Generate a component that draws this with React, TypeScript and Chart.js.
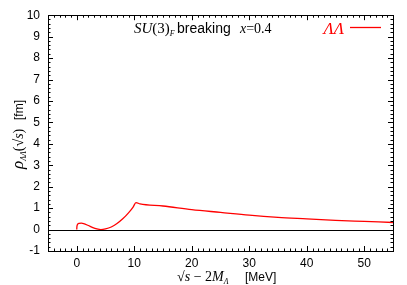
import React, { useEffect, useRef } from "react";
import { Chart, registerables } from "chart.js";
Chart.register(...registerables);

const energies = [0, 0.03, 0.12, 0.4, 0.8, 1.2, 2, 2.8, 3.5, 4.2, 5, 6, 7, 8, 9, 9.8, 10.3, 11, 15, 20, 25, 30, 35, 40, 45, 50, 55];
const rhoLL = [0, 0.14, 0.23, 0.29, 0.3, 0.28, 0.19, 0.09, 0.03, 0.0, 0.03, 0.12, 0.28, 0.5, 0.78, 1.05, 1.26, 1.2, 1.1, 0.93, 0.8, 0.67, 0.57, 0.5, 0.43, 0.38, 0.33];
const xTickLabels = [0, 10, 20, 30, 40, 50];
const yTickLabels = [-1, 0, 1, 2, 3, 4, 5, 6, 7, 8, 9, 10];
const xMinorStep = 1;
const yMinorStep = 0.2;
const xRange = [-5, 55];
const yRange = [-1, 10];
const seriesName = "ΛΛ";

const SANS = '"Liberation Sans", Arial, sans-serif';
const SERIF = '"Liberation Serif", "Times New Roman", serif';

const decorPlugin = {
  id: "decor",
  afterDatasetsDraw(chart: any) {
    const { ctx, chartArea: a, scales } = chart;
    const xs = scales.x, ys = scales.y;
    ctx.save();
    ctx.strokeStyle = "#000";
    ctx.lineWidth = 1;
    const y0 = Math.round(ys.getPixelForValue(0)) + 0.5;
    ctx.beginPath();
    ctx.moveTo(a.left, y0);
    ctx.lineTo(a.right, y0);
    ctx.stroke();
    ctx.strokeRect(Math.round(a.left) + 0.5, Math.round(a.top) + 0.5, Math.round(a.right - a.left), Math.round(a.bottom - a.top));
    ctx.beginPath();
    const nx = Math.round((xRange[1] - xRange[0]) / xMinorStep);
    for (let i = 0; i <= nx; i++) {
      const v = xRange[0] + i * xMinorStep;
      const major = xTickLabels.includes(Math.round(v * 1000) / 1000);
      const len = major ? 5 : 2.5;
      const px = Math.round(xs.getPixelForValue(v)) + 0.5;
      ctx.moveTo(px, a.bottom);
      ctx.lineTo(px, a.bottom - len);
      ctx.moveTo(px, a.top);
      ctx.lineTo(px, a.top + len);
    }
    const ny = Math.round((yRange[1] - yRange[0]) / yMinorStep);
    for (let i = 0; i <= ny; i++) {
      const v = Math.round((yRange[0] + i * yMinorStep) * 1000) / 1000;
      const major = yTickLabels.includes(v);
      const len = major ? 5 : 2.5;
      const py = Math.round(ys.getPixelForValue(v)) + 0.5;
      ctx.moveTo(a.left, py);
      ctx.lineTo(a.left + len, py);
      ctx.moveTo(a.right, py);
      ctx.lineTo(a.right - len, py);
    }
    ctx.stroke();

    // title inside plot
    ctx.fillStyle = "#000";
    ctx.textBaseline = "alphabetic";
    ctx.textAlign = "left";
    let tx = 134;
    const ty = 33;
    const part = (t: string, font: string, dy = 0) => {
      ctx.font = font;
      ctx.fillText(t, tx, ty + dy);
      tx += ctx.measureText(t).width;
    };
    part("SU", `italic 15px ${SERIF}`);
    part("(3)", `15px ${SERIF}`);
    part("F", `italic 8px ${SERIF}`, 3);
    tx = 177;
    part("breaking", `14px ${SANS}`);
    tx = 240;
    part("x", `italic 14px ${SERIF}`);
    part("=0.4", `14px ${SERIF}`);

    // legend
    ctx.fillStyle = "#ff0000";
    ctx.font = `italic 17px ${SERIF}`;
    ctx.textAlign = "right";
    ctx.fillText(seriesName, 344, 34);
    ctx.strokeStyle = "#ff0000";
    ctx.lineWidth = 1.3;
    ctx.beginPath();
    ctx.moveTo(350, 27.5);
    ctx.lineTo(381, 27.5);
    ctx.stroke();

    // x axis title
    ctx.fillStyle = "#000";
    ctx.textAlign = "left";
    tx = 177;
    const xty = 281;
    const p2 = (t: string, font: string, dy = 0) => {
      ctx.font = font;
      ctx.fillText(t, tx, xty + dy);
      tx += ctx.measureText(t).width;
    };
    p2("√", `14px ${SERIF}`);
    p2("s", `italic 14px ${SERIF}`);
    p2(" − 2", `14px ${SERIF}`);
    p2("M", `italic 14px ${SERIF}`);
    p2("Λ", `italic 8px ${SERIF}`, 3);
    tx = 245;
    p2("[MeV]", `12px ${SANS}`);

    // y axis title rotated
    ctx.save();
    ctx.translate(23, 169);
    ctx.rotate(-Math.PI / 2);
    tx = 0;
    const p3 = (t: string, font: string, dy = 0) => {
      ctx.font = font;
      ctx.fillText(t, tx, dy);
      tx += ctx.measureText(t).width;
    };
    p3("ρ", `italic 17px ${SERIF}`);
    p3("ΛΛ", `italic 8px ${SERIF}`, 3);
    p3("(√", `14px ${SERIF}`);
    p3("s", `italic 14px ${SERIF}`);
    p3(")", `14px ${SERIF}`);
    tx = 169 - 120;
    p3("[fm]", `12px ${SANS}`);
    ctx.restore();

    ctx.restore();
  },
};

export default function App() {
  const ref = useRef<HTMLCanvasElement>(null);
  useEffect(() => {
    document.body.style.margin = "0";
    const chart = new Chart(ref.current!, {
      type: "line",
      data: {
        datasets: [
          {
            label: seriesName,
            data: energies.map((e, i) => ({ x: e, y: rhoLL[i] })),
            borderColor: "#ff0000",
            borderWidth: 1.3,
            pointRadius: 0,
            cubicInterpolationMode: "monotone",
            fill: false,
          },
        ],
      },
      options: {
        animation: false,
        responsive: false,
        maintainAspectRatio: false,
        layout: { padding: { top: 8.8, right: 14, left: 0, bottom: 0 } },
        plugins: { legend: { display: false }, tooltip: { enabled: false } },
        scales: {
          x: {
            type: "linear",
            min: xRange[0],
            max: xRange[1],
            afterBuildTicks: (s: any) => {
              s.ticks = xTickLabels.map((v) => ({ value: v }));
            },
            afterFit: (s: any) => {
              s.height = 34;
            },
            grid: { display: false, drawTicks: false },
            border: { display: false },
            ticks: { padding: 5, color: "#000", font: { size: 12, family: SANS }, maxRotation: 0 },
          },
          y: {
            type: "linear",
            min: yRange[0],
            max: yRange[1],
            afterBuildTicks: (s: any) => {
              s.ticks = yTickLabels.map((v) => ({ value: v }));
            },
            afterFit: (s: any) => {
              s.width = 48;
            },
            grid: { display: false, drawTicks: false },
            border: { display: false },
            ticks: { padding: 8, color: "#000", font: { size: 12, family: SANS } },
          },
        },
      },
      plugins: [decorPlugin],
    } as any);
    return () => chart.destroy();
  }, []);
  return (
    <div style={{ position: "absolute", left: 0, top: 0, width: 407, height: 285 }}>
      <canvas ref={ref} width={407} height={285} style={{ width: 407, height: 285 }} />
    </div>
  );
}
